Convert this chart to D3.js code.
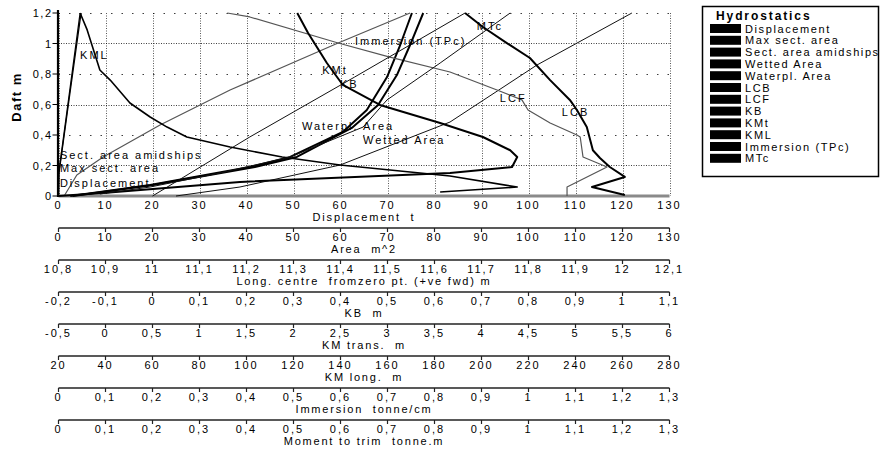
<!DOCTYPE html>
<html>
<head>
<meta charset="utf-8">
<script src="https://d3js.org/d3.v7.min.js"></script>
<style>
  body { margin: 0; background: #fff; }
  svg text { font-family: "Liberation Sans", Arial, sans-serif; white-space: pre; }
</style>
</head>
<body>
<svg width="881" height="451"></svg>
<script>
// each series: [draft m, value in its own axis unit]
var displacement = [[0,1.2],[0.138,3.9],[0.256,9.5],[0.466,21.6],[0.695,36.5],[1.003,59.5],[1.2,74.8]];
var maxSectArea = [[0,0],[0.15,0.1],[0.6,2.1],[1.2,4.8]];
var sectAreaAmidships = [[0,0],[0.15,0.05],[0.6,2.0],[1.2,4.6]];
var wettedArea = [[0,25],[0.059,38.6],[0.203,59.9],[0.485,83.3],[0.859,101.8],[1.2,122]];
var waterplArea = [[0,2.5],[0.026,8.8],[0.072,19.5],[0.19,40.7],[0.256,49.3],[0.42,60.5],[0.564,65.6],[0.78,69.9],[0.99,72.7],[1.2,75.2]];
var lcb = [[0.007,12.005],[0.059,11.935],[0.125,12.005],[0.19,11.973],[0.249,11.952],[0.30,11.937],[0.452,11.924],[0.564,11.903],[0.63,11.888],[0.76,11.846],[0.905,11.803],[1.003,11.754],[1.108,11.703],[1.2,11.665]];
var lcf = [[0,11.882],[0.059,11.882],[0.19,11.967],[0.256,11.916],[0.387,11.91],[0.40,11.903],[0.479,11.846],[0.564,11.799],[0.63,11.786],[0.695,11.733],[0.813,11.633],[0.911,11.505],[1.003,11.395],[1.174,11.207],[1.2,11.159]];
var kb = [[0,0],[0.387,0.207],[0.78,0.43],[1.2,0.665]];
var kmt = [[0,-0.5],[0.02,-0.025],[0.092,1.43],[0.151,3.665],[0.19,4.325],[0.256,4.38],[0.30,4.305],[0.387,4.015],[0.479,3.56],[0.597,2.92],[0.728,2.525],[0.872,2.355],[1.069,2.155],[1.2,2.04]];
var kml = [[0.026,182.4],[0.059,215.2],[0.131,186.6],[0.203,139.8],[0.256,115.2],[0.321,93],[0.387,74.6],[0.452,66.2],[0.518,59],[0.61,50.4],[0.76,42],[0.826,37.6],[1.089,32.2],[1.2,29.2]];
var immersionTPc = [[0,0.03],[0.026,0.093],[0.072,0.201],[0.19,0.418],[0.256,0.507],[0.446,0.624],[0.597,0.68],[0.793,0.72],[0.99,0.748],[1.2,0.776]];
var mtc = [[0.013,0.088],[0.059,0.195],[0.151,0.344],[0.256,0.493],[0.452,0.648],[0.63,0.699],[0.872,0.812],[1.2,0.961]];

var seriesNames = ["Displacement", "Max sect. area", "Sect. area amidships", "Wetted Area", "Waterpl. Area",
                   "LCB", "LCF", "KB", "KMt", "KML", "Immersion (TPc)", "MTc"];
var seriesData = [displacement, maxSectArea, sectAreaAmidships, wettedArea, waterplArea,
                  lcb, lcf, kb, kmt, kml, immersionTPc, mtc];
var seriesAxis = [0, 1, 1, 1, 1, 2, 2, 3, 4, 5, 6, 7];

var axisTitles = ["Displacement  t", "Area  m^2", "Long. centre  fromzero pt. (+ve fwd) m", "KB  m",
                  "KM trans.  m", "KM long.  m", "Immersion  tonne/cm", "Moment to trim  tonne.m"];
var axisDomains = [[0,130],[0,130],[10.8,12.1],[-0.2,1.1],[-0.5,6],[20,280],[0,1.3],[0,1.3]];
var draftTicks = [0, 0.2, 0.4, 0.6, 0.8, 1, 1.2];

// curve label anchors: [displacement-scale value, draft]
var labelAnchors = [[0.3,0.059],[0.3,0.157],[0.3,0.243],[64.8,0.341],[51.8,0.433],
                    [107.1,0.525],[93.9,0.616],[59.9,0.708],[56.1,0.80],[4.6,0.898],[63.1,0.99],[89.0,1.089]];

var svg = d3.select("svg");
var plotLeft = 58.5, plotRight = 669.5, plotTop = 13, plotBottom = 196;

var locale = d3.formatLocale({decimal: ",", thousands: ".", grouping: [3], currency: ["", ""], minus: "-"});
var fmt = locale.format("~g");

var y = d3.scaleLinear().domain([0, 1.2]).range([plotBottom, plotTop]);
var xs = axisDomains.map(function(dom) { return d3.scaleLinear().domain(dom).range([plotLeft, plotRight]); });

// grid
var grid = svg.append("g");
xs[0].ticks(13).forEach(function(t) {
    grid.append("line")
        .attr("x1", Math.round(xs[0](t)) + 0.5).attr("x2", Math.round(xs[0](t)) + 0.5)
        .attr("y1", plotTop).attr("y2", plotBottom)
        .attr("stroke", "#000").attr("stroke-width", 1)
        .attr("stroke-dasharray", "1,1.5").attr("opacity", 0.65);
});
draftTicks.slice(1).forEach(function(t, i) {
    grid.append("line")
        .attr("x1", plotLeft).attr("x2", plotRight)
        .attr("y1", Math.round(y(t)) + 0.5).attr("y2", Math.round(y(t)) + 0.5)
        .attr("stroke", "#000").attr("stroke-width", 1)
        .attr("stroke-dasharray", i % 2 == 0 ? "1,1.5" : "1.5,9").attr("opacity", 0.75);
});

// bottom (displacement) base line
svg.append("line")
    .attr("x1", plotLeft).attr("x2", plotRight)
    .attr("y1", plotBottom).attr("y2", plotBottom)
    .attr("stroke", "#8a8a8a").attr("stroke-width", 3);

// curves
var styles = [
    {c: "#555", w: 1.2}, {c: "#000", w: 1.3}, {c: "#000", w: 1.3}, {c: "#111", w: 1}, {c: "#000", w: 2},
    {c: "#000", w: 2}, {c: "#555", w: 1.2}, {c: "#111", w: 1}, {c: "#000", w: 2}, {c: "#000", w: 1.6},
    {c: "#000", w: 2}, {c: "#111", w: 1}
];
var curves = svg.append("g");
seriesData.forEach(function(data, i) {
    var xsc = xs[seriesAxis[i]];
    var line = d3.line()
        .x(function(d) { return xsc(d[1]); })
        .y(function(d) { return y(d[0]); });
    curves.append("path")
        .datum(data)
        .attr("d", line)
        .attr("fill", "none")
        .attr("stroke", styles[i].c)
        .attr("stroke-width", styles[i].w)
        .attr("stroke-linejoin", "round");
});

// curve labels
svg.append("g").selectAll("text")
    .data(labelAnchors)
    .enter().append("text")
    .attr("x", function(d) { return xs[0](d[0]); })
    .attr("y", function(d) { return y(d[1]); })
    .style("font-size", "11px")
    .style("letter-spacing", "2px")
    .attr("fill", "#000")
    .text(function(d, i) { return seriesNames[i]; });

// y axis
svg.append("line")
    .attr("x1", plotLeft - 0.5).attr("x2", plotLeft - 0.5)
    .attr("y1", plotTop - 3).attr("y2", plotBottom + 1)
    .attr("stroke", "#000").attr("stroke-width", 2.2);
var ya = svg.append("g");
draftTicks.forEach(function(t) {
    ya.append("line")
        .attr("x1", plotLeft - 6).attr("x2", plotLeft)
        .attr("y1", y(t)).attr("y2", y(t))
        .attr("stroke", "#000").attr("stroke-width", 1);
    ya.append("text")
        .attr("x", plotLeft - 6).attr("y", y(t) + 4)
        .attr("text-anchor", "end")
        .style("font-size", "11px").style("letter-spacing", "1.5px")
        .text(fmt(t));
});
svg.append("text")
    .attr("transform", "translate(21,97) rotate(-90)")
    .attr("text-anchor", "middle")
    .style("font-size", "13px").style("font-weight", "bold").style("letter-spacing", "1.5px")
    .text("Daft m");

// stacked x axes
axisTitles.forEach(function(title, i) {
    var y0 = plotBottom + 32 * i;
    var g = svg.append("g");
    var ticks = xs[i].ticks(13);
    if (i > 0) {
        g.append("line")
            .attr("x1", plotLeft).attr("x2", plotRight)
            .attr("y1", y0).attr("y2", y0)
            .attr("stroke", "#222").attr("stroke-width", 1.4);
        ticks.forEach(function(t) {
            g.append("line")
                .attr("x1", xs[i](t)).attr("x2", xs[i](t))
                .attr("y1", y0).attr("y2", y0 + 4)
                .attr("stroke", "#222").attr("stroke-width", 1.2);
        });
    }
    ticks.forEach(function(t) {
        g.append("text")
            .attr("x", xs[i](t)).attr("y", y0 + 13)
            .attr("text-anchor", "middle")
            .style("font-size", "11px").style("letter-spacing", "2px")
            .text(fmt(t));
    });
    g.append("text")
        .attr("x", (plotLeft + plotRight) / 2).attr("y", y0 + 25)
        .attr("text-anchor", "middle")
        .style("font-size", "11px").style("letter-spacing", "1.8px")
        .text(title);
});

// legend
var lg = svg.append("g");
lg.append("rect")
    .attr("x", 702.5).attr("y", 6.5).attr("width", 176).attr("height", 170)
    .attr("fill", "#fff").attr("stroke", "#000").attr("stroke-width", 1.5);
lg.append("text")
    .attr("x", 716).attr("y", 20)
    .style("font-size", "12px").style("font-weight", "bold").style("letter-spacing", "1.9px")
    .text("Hydrostatics");
seriesNames.forEach(function(name, i) {
    var cy = 28.5 + i * 11.8;
    lg.append("rect")
        .attr("x", 710).attr("y", cy - 4.5).attr("width", 31).attr("height", 9)
        .attr("fill", "#000");
    lg.append("text")
        .attr("x", 745).attr("y", cy + 4)
        .style("font-size", "11px").style("letter-spacing", "1.6px")
        .text(name);
});
</script>
</body>
</html>
